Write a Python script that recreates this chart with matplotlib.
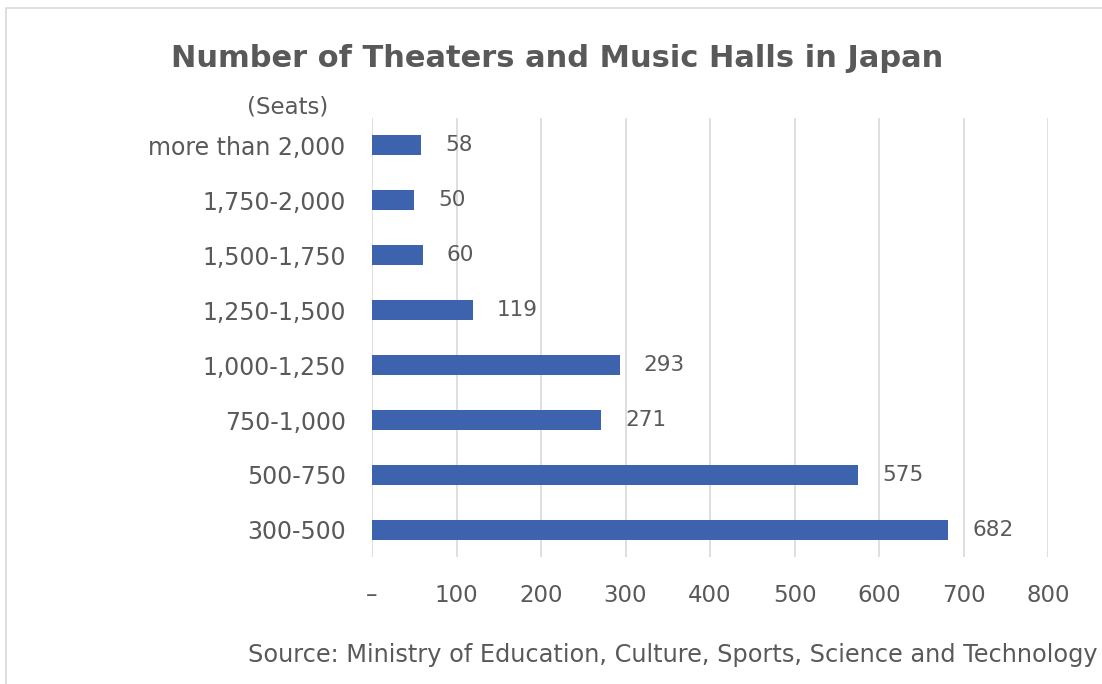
import matplotlib.pyplot as plt
from matplotlib.patches import Rectangle

categories = ['300-500', '500-750', '750-1,000', '1,000-1,250',
              '1,250-1,500', '1,500-1,750', '1,750-2,000', 'more than 2,000']
counts = [682, 575, 271, 293, 119, 60, 50, 58]
xticks = [0, 100, 200, 300, 400, 500, 600, 700, 800]
xtick_labels = ['–', '100', '200', '300', '400', '500', '600', '700', '800']

text_color = '#595959'
bar_color = '#3d62ae'

plt.rcParams['font.family'] = ['DejaVu Sans']

fig = plt.figure(figsize=(11.02, 6.84), dpi=100)
ax = fig.add_axes([0.3376, 0.185, 0.6134, 0.643])

# light frame around the chart area
fig.patches.append(Rectangle((0.005, -0.01), 1.2, 0.998, transform=fig.transFigure,
                             fill=False, edgecolor='#d9d9d9', linewidth=1.2))

ypos = list(range(len(categories)))
ax.barh(ypos, counts, height=0.36, color=bar_color, zorder=3)

for y, v in zip(ypos, counts):
    ax.annotate(str(v), (v, y), xytext=(24, 0), textcoords='offset pixels',
                va='center', ha='left', fontsize=15.5, color=text_color)

ax.set_xlim(0, 800)
ax.set_ylim(-0.5, 7.5)
ax.set_xticks(xticks)
ax.set_xticklabels(xtick_labels)
ax.set_yticks(ypos)
ax.set_yticklabels(categories)
ax.grid(axis='x', color='#d9d9d9', linewidth=1.2, zorder=0)
for s in ax.spines.values():
    s.set_visible(False)
ax.tick_params(axis='x', length=0, pad=19, labelsize=16.5, labelcolor=text_color)
ax.tick_params(axis='y', length=0, pad=19, labelsize=17, labelcolor=text_color)

fig.text(0.506, 0.915, 'Number of Theaters and Music Halls in Japan', ha='center', va='center',
         fontsize=22, fontweight='bold', color=text_color)
fig.text(0.261, 0.843, '(Seats)', ha='center', va='center', fontsize=16.5, color=text_color)
fig.text(0.996, 0.042, 'Source: Ministry of Education, Culture, Sports, Science and Technology',
         ha='right', va='center', fontsize=17.3, color=text_color)

fig.savefig('out.png', dpi=100)
